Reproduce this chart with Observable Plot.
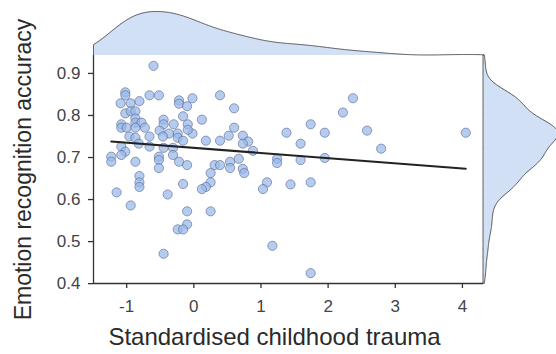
<!DOCTYPE html>
<html><head><meta charset="utf-8">
<script src="https://cdn.jsdelivr.net/npm/d3@7"></script>
<script src="https://cdn.jsdelivr.net/npm/@observablehq/plot@0.6"></script>
<style>
html,body{margin:0;padding:0;background:#fff;overflow:hidden;}
#wrap{position:relative;width:556px;height:354px;overflow:hidden;}
#wrap svg{position:absolute;overflow:visible;}
</style></head><body><div id="wrap"></div>
<script>
const trauma = [
 -0.60,-1.02,-1.02,-0.66,-0.52,-1.09,-0.94,-0.81,-0.22,-0.22,
 -0.10,-0.02, 0.39, 0.60,-1.02,-0.94,-0.87,-0.16, 0.12,-0.87,
 -0.87,-1.08,-1.08,-1.00,-0.78,-0.73,-0.87,-0.45,-0.45,-0.30,
 -0.09,-0.51,-0.37,-0.24,-0.02,-0.09,-0.96,-0.87,-0.82,-0.66,
 -0.66,-0.46,-0.24,-0.16, 0.18, 0.39, 0.52, 0.60, 0.73, 0.81,
  0.73, 0.88,-1.08,-1.02,-1.08,-0.45,-0.31,-1.23,-1.23,-0.87,
 -0.52,-0.52,-0.31,-0.22,-0.10,-0.52, 0.31, 0.39, 0.54, 0.67,
  1.24, 1.24, 0.73, 0.54,-0.81,-0.81,-0.81,-0.16, 0.25, 0.25,
  0.18, 0.12, 0.75, 1.09, 1.03,-1.15,-0.39,-0.94,-0.10, 0.25,
 -0.10,-0.24,-0.16, 1.17,-0.45, 2.37, 2.22, 1.74, 1.38, 1.95,
  2.58, 4.05, 1.59, 2.79, 1.59, 1.95, 1.44, 1.74, 1.74
];
const accuracy = [
 0.918,0.855,0.848,0.848,0.848,0.829,0.829,0.834,0.836,0.828,
 0.822,0.841,0.848,0.817,0.805,0.810,0.810,0.798,0.790,0.793,
 0.783,0.779,0.771,0.771,0.783,0.771,0.771,0.790,0.779,0.779,
 0.779,0.764,0.757,0.757,0.757,0.766,0.750,0.747,0.733,0.750,
 0.726,0.750,0.747,0.740,0.740,0.740,0.752,0.771,0.752,0.738,
 0.733,0.716,0.726,0.714,0.706,0.723,0.723,0.702,0.690,0.690,
 0.702,0.694,0.706,0.690,0.682,0.675,0.682,0.682,0.690,0.697,
 0.697,0.687,0.673,0.675,0.656,0.641,0.630,0.637,0.663,0.641,
 0.630,0.625,0.663,0.641,0.625,0.617,0.612,0.586,0.572,0.572,
 0.541,0.529,0.529,0.490,0.471,0.841,0.807,0.779,0.759,0.759,
 0.764,0.759,0.733,0.721,0.694,0.699,0.636,0.641,0.425
];
const xTicks = [-1, 0, 1, 2, 3, 4];
const yTicks = [0.4, 0.5, 0.6, 0.7, 0.8, 0.9];
const xLabel = "Standardised childhood trauma";
const yLabel = "Emotion recognition accuracy";

const data = trauma.map((x, i) => ({x, y: accuracy[i]}));

// ggplot-style 5% expansion
const ext = arr => { const [a, b] = d3.extent(arr); const p = (b - a) * 0.05; return [a - p, b + p]; };
const xDom = ext(trauma), yDom = ext(accuracy);

// Gaussian KDE with R's bw.nrd0, evaluated over the panel range
function bwNrd0(v) {
  const s = d3.deviation(v);
  const q = (d3.quantile(v, 0.75) - d3.quantile(v, 0.25)) / 1.34;
  return 0.9 * Math.min(s, q) * Math.pow(v.length, -0.2);
}
function kde(v, [a, b], n = 256) {
  const h = bwNrd0(v), out = [];
  for (let i = 0; i < n; i++) {
    const t = a + (b - a) * i / (n - 1);
    let s = 0;
    for (const xi of v) { const z = (t - xi) / h; s += Math.exp(-0.5 * z * z); }
    out.push({v: t, d: s / (v.length * h * Math.sqrt(2 * Math.PI))});
  }
  return out;
}
const kx = kde(trauma, xDom), ky = kde(accuracy, yDom);
const kxLine = [{v: xDom[0], d: 0}, ...kx];

const FONT = "'Liberation Sans', Arial, sans-serif";
const wrap = document.getElementById("wrap");
const place = (svg, left, top) => { svg.style.left = left + "px"; svg.style.top = top + "px"; wrap.appendChild(svg); };

const topPlot = Plot.plot({
  width: 556, height: 56, marginLeft: 93, marginRight: 73, marginTop: 11, marginBottom: 1,
  style: {background: "transparent"},
  x: {domain: xDom, axis: null}, y: {domain: [0, d3.max(kx, d => d.d)], axis: null},
  marks: [
    Plot.areaY(kx, {x: "v", y: "d", fill: "#d2e0f6"}),
    Plot.lineY(kxLine, {x: "v", y: "d", stroke: "#555", strokeWidth: 0.9})
  ]
});
place(topPlot, 0, 0);

const rightPlot = Plot.plot({
  width: 75, height: 354, marginLeft: 0, marginRight: 0, marginTop: 55, marginBottom: 71,
  style: {background: "transparent"},
  y: {domain: yDom, axis: null}, x: {domain: [0, d3.max(ky, d => d.d)], axis: null},
  marks: [
    Plot.areaX(ky, {y: "v", x: "d", fill: "#d2e0f6", stroke: "#444", strokeWidth: 0.9})
  ]
});
place(rightPlot, 483, 0);

const main = Plot.plot({
  width: 556, height: 354, marginLeft: 93, marginRight: 73, marginTop: 55, marginBottom: 71,
  style: {background: "transparent", fontFamily: FONT},
  x: {domain: xDom}, y: {domain: yDom},
  marks: [
    Plot.dot(data, {x: "x", y: "y", r: 4.6, fill: "#98b9ea", fillOpacity: 0.72, stroke: "#55658a", strokeWidth: 0.6}),
    Plot.linearRegressionY(data, {x: "x", y: "y", ci: 0, stroke: "#222", strokeWidth: 2}),
    Plot.ruleY([yDom[0]], {stroke: "#333", strokeWidth: 1.3}),
    Plot.ruleX([xDom[0]], {stroke: "#333", strokeWidth: 1.3}),
    Plot.axisX({ticks: xTicks, tickSize: 5, tickPadding: 11, stroke: "#333", strokeWidth: 1.3, fill: "#444", fontSize: 17, label: null, tickFormat: d => d < 0 ? "-" + Math.abs(d) : String(d)}),
    Plot.axisY({ticks: yTicks, tickSize: 5, tickPadding: 8, stroke: "#333", strokeWidth: 1.3, fill: "#444", fontSize: 17, label: null, tickFormat: d3.format(".1f")}),
    Plot.text([yLabel], {frameAnchor: "left", textAnchor: "middle", rotate: -90, dx: -70, fontSize: 23, fill: "#2a2a2a"}),
    Plot.text([xLabel], {frameAnchor: "bottom", textAnchor: "middle", dx: -14, dy: 61, fontSize: 24, fill: "#2a2a2a"})
  ]
});
place(main, 0, 0);
</script></body></html>
